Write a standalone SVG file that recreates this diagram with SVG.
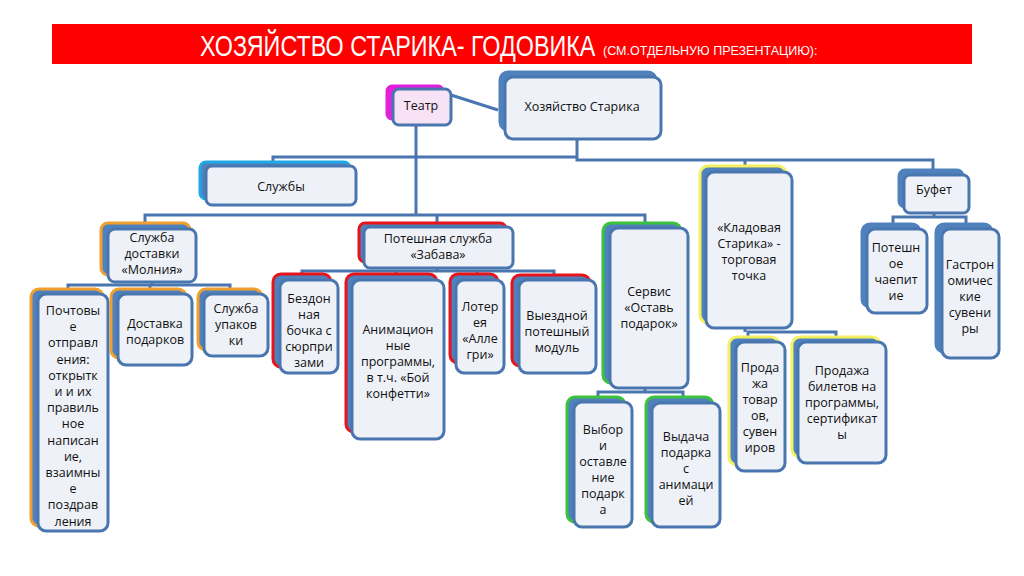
<svg xmlns="http://www.w3.org/2000/svg" width="1024" height="576" viewBox="0 0 1024 576">
<style>
.bk{fill:#4F81BD;stroke-width:3}
.fr{fill:#EEF2F8;stroke:#4A76B0;stroke-width:3}
.t{font-family:"Open Sans","Liberation Sans",sans-serif;font-size:12.5px;fill:#111;text-anchor:middle}
.c{fill:none;stroke:#4A76B0;stroke-width:3}
.or{stroke:#F0A030}.rd{stroke:#E8141C}.gr{stroke:#3CC23C}.ye{stroke:#F4F060}.bl{stroke:#4F81BD}.cy{stroke:#1EA8E6}
</style>
<rect width="1024" height="576" fill="#fff"/>
<g id="title">
<rect x="52" y="24" width="920" height="40" fill="#FF0000"/>
<text transform="translate(200,56) scale(0.805,1)" x="0" y="0" font-family="Liberation Sans, sans-serif" font-size="29" fill="#fff">ХОЗЯЙСТВО СТАРИКА- ГОДОВИКА</text>
<text x="603" y="55" font-family="Liberation Sans, sans-serif" font-size="12.5" fill="#fff">(СМ.ОТДЕЛЬНУЮ ПРЕЗЕНТАЦИЮ):</text>
</g>
<g id="connectors">
<path class="c" d="M451 95 L498 110"/>
<path class="c" d="M416 125 V215"/>
<path class="c" d="M577 139 V160 H933 V171 M745 160 V166 M577 157 H273 V163"/>
<path class="c" d="M145 223 V215 H645 V224 M437 215 V223"/>
<path class="c" d="M152 282 V285 M68 289 V285 H230 V289 M150 285 V289"/>
<path class="c" d="M437 268 V271 M302 275 V271 H554 V275 M396 271 V275 M477 271 V275"/>
<path class="c" d="M645 388 V392 M598 397 V392 H683 V397"/>
<path class="c" d="M745 328 V332 M748 337 V332 H836 V337"/>
<path class="c" d="M934 213 V217 M893 224 V217 H966 V224"/>
</g>
<g id="n-teatr">
<rect x="387" y="86" width="56" height="33" rx="5" fill="#E21FDB" stroke="#E21FDB" stroke-width="3"/>
<rect x="393" y="89" width="58" height="36" rx="6" fill="#F8E2F6" stroke="#4A76B0" stroke-width="3"/>
<text class="t" x="421" y="110">Театр</text>
</g>
<g id="n-khoz">
<rect class="bk bl" x="500" y="72" width="156" height="58" rx="8"/>
<rect class="fr" x="505" y="77" width="156" height="62" rx="8"/>
<text class="t" x="582" y="111">Хозяйство Старика</text>
</g>
<g id="n-sluzhby">
<rect class="bk cy" x="200" y="162" width="150" height="37" rx="6"/>
<rect class="fr" x="206" y="166" width="150" height="39" rx="6"/>
<text class="t" x="281" y="191">Службы</text>
</g>
<g id="n-molniya">
<rect class="bk or" x="101" y="223" width="89" height="52" rx="7"/>
<rect class="fr" x="108" y="229" width="88" height="53" rx="7"/>
<text class="t" x="152" y="242">Служба<tspan x="152" dy="16">доставки</tspan><tspan x="152" dy="16">«Молния»</tspan></text>
</g>
<g id="n-pocht">
<rect class="bk or" x="31" y="289" width="72" height="237" rx="8"/>
<rect class="fr" x="38" y="294" width="70" height="237" rx="8"/>
<text class="t" x="73" y="315">Почтовы<tspan x="73" dy="16.2">е</tspan><tspan x="73" dy="16.2">отправл</tspan><tspan x="73" dy="16.2">ения:</tspan><tspan x="73" dy="16.2">открытк</tspan><tspan x="73" dy="16.2">и и их</tspan><tspan x="73" dy="16.2">правиль</tspan><tspan x="73" dy="16.2">ное</tspan><tspan x="73" dy="16.2">написан</tspan><tspan x="73" dy="16.2">ие,</tspan><tspan x="73" dy="16.2">взаимны</tspan><tspan x="73" dy="16.2">е</tspan><tspan x="73" dy="16.2">поздрав</tspan><tspan x="73" dy="16.2">ления</tspan></text>
</g>
<g id="n-dostavka">
<rect class="bk or" x="111" y="289" width="75" height="69" rx="8"/>
<rect class="fr" x="118" y="294" width="74" height="71" rx="8"/>
<text class="t" x="155" y="328">Доставка<tspan x="155" dy="16">подарков</tspan></text>
</g>
<g id="n-upakovki">
<rect class="bk or" x="198" y="289" width="64" height="61" rx="8"/>
<rect class="fr" x="204" y="294" width="64" height="62" rx="8"/>
<text class="t" x="236" y="313">Служба<tspan x="236" dy="16">упаков</tspan><tspan x="236" dy="16">ки</tspan></text>
</g>
<g id="n-zabava">
<rect class="bk rd" x="359" y="223" width="147" height="39" rx="6"/>
<rect class="fr" x="364" y="227" width="149" height="41" rx="6"/>
<text class="t" x="438" y="243">Потешная служба<tspan x="438" dy="16">«Забава»</tspan></text>
</g>
<g id="n-bezdon">
<rect class="bk rd" x="273" y="274" width="58" height="93" rx="8"/>
<rect class="fr" x="280" y="280" width="58" height="93" rx="8"/>
<text class="t" x="309" y="303">Бездон<tspan x="309" dy="16">ная</tspan><tspan x="309" dy="16">бочка с</tspan><tspan x="309" dy="16">сюрпри</tspan><tspan x="309" dy="16">зами</tspan></text>
</g>
<g id="n-anim">
<rect class="bk rd" x="346" y="274" width="91" height="158" rx="8"/>
<rect class="fr" x="352" y="280" width="92" height="159" rx="8"/>
<text class="t" x="398" y="334">Анимацион<tspan x="398" dy="16">ные</tspan><tspan x="398" dy="16">программы,</tspan><tspan x="398" dy="16">в т.ч. «Бой</tspan><tspan x="398" dy="16">конфетти»</tspan></text>
</g>
<g id="n-loteri">
<rect class="bk rd" x="450" y="274" width="48" height="89" rx="8"/>
<rect class="fr" x="456" y="280" width="48" height="93" rx="8"/>
<text class="t" x="480" y="311">Лотер<tspan x="480" dy="16">ея</tspan><tspan x="480" dy="16">«Алле</tspan><tspan x="480" dy="16">гри»</tspan></text>
</g>
<g id="n-vyezd">
<rect class="bk rd" x="512" y="275" width="78" height="91" rx="8"/>
<rect class="fr" x="519" y="280" width="77" height="93" rx="8"/>
<text class="t" x="557" y="320">Выездной<tspan x="557" dy="16">потешный</tspan><tspan x="557" dy="16">модуль</tspan></text>
</g>
<g id="n-servis">
<rect class="bk gr" x="603" y="223" width="78" height="160" rx="8"/>
<rect class="fr" x="610" y="228" width="78" height="160" rx="8"/>
<text class="t" x="649" y="296">Сервис<tspan x="649" dy="16">«Оставь</tspan><tspan x="649" dy="16">подарок»</tspan></text>
</g>
<g id="n-vybor">
<rect class="bk gr" x="567" y="397" width="58" height="125" rx="8"/>
<rect class="fr" x="574" y="402" width="58" height="125" rx="8"/>
<text class="t" x="603" y="434">Выбор<tspan x="603" dy="16">и</tspan><tspan x="603" dy="16">оставле</tspan><tspan x="603" dy="16">ние</tspan><tspan x="603" dy="16">подарк</tspan><tspan x="603" dy="16">а</tspan></text>
</g>
<g id="n-vydacha">
<rect class="bk gr" x="646" y="397" width="67" height="125" rx="8"/>
<rect class="fr" x="652" y="403" width="68" height="124" rx="8"/>
<text class="t" x="686" y="441">Выдача<tspan x="686" dy="16">подарка</tspan><tspan x="686" dy="16">с</tspan><tspan x="686" dy="16">анимаци</tspan><tspan x="686" dy="16">ей</tspan></text>
</g>
<g id="n-kladovaya">
<rect class="bk ye" x="700" y="166" width="86" height="157" rx="8"/>
<rect class="fr" x="706" y="172" width="86" height="156" rx="8"/>
<text class="t" x="749" y="232">«Кладовая<tspan x="749" dy="16">Старика» -</tspan><tspan x="749" dy="16">торговая</tspan><tspan x="749" dy="16">точка</tspan></text>
</g>
<g id="n-tovary">
<rect class="bk ye" x="729" y="337" width="50" height="128" rx="8"/>
<rect class="fr" x="736" y="342" width="49" height="129" rx="8"/>
<text class="t" x="760" y="372">Прода<tspan x="760" dy="16">жа</tspan><tspan x="760" dy="16">товар</tspan><tspan x="760" dy="16">ов,</tspan><tspan x="760" dy="16">сувен</tspan><tspan x="760" dy="16">иров</tspan></text>
</g>
<g id="n-bilety">
<rect class="bk ye" x="792" y="337" width="88" height="120" rx="8"/>
<rect class="fr" x="798" y="342" width="88" height="121" rx="8"/>
<text class="t" x="842" y="375">Продажа<tspan x="842" dy="16">билетов на</tspan><tspan x="842" dy="16">программы,</tspan><tspan x="842" dy="16">сертификат</tspan><tspan x="842" dy="16">ы</tspan></text>
</g>
<g id="n-bufet">
<rect class="bk bl" x="899" y="170" width="64" height="37" rx="6"/>
<rect class="fr" x="904" y="175" width="65" height="38" rx="6"/>
<text class="t" x="934" y="194">Буфет</text>
</g>
<g id="n-chaepitie">
<rect class="bk bl" x="862" y="224" width="58" height="83" rx="8"/>
<rect class="fr" x="867" y="229" width="60" height="84" rx="8"/>
<text class="t" x="896" y="252">Потешн<tspan x="896" dy="16">ое</tspan><tspan x="896" dy="16">чаепит</tspan><tspan x="896" dy="16">ие</tspan></text>
</g>
<g id="n-gastro">
<rect class="bk bl" x="936" y="224" width="56" height="128" rx="8"/>
<rect class="fr" x="942" y="229" width="57" height="129" rx="8"/>
<text class="t" x="970" y="269">Гастрон<tspan x="970" dy="16">омичес</tspan><tspan x="970" dy="16">кие</tspan><tspan x="970" dy="16">сувени</tspan><tspan x="970" dy="16">ры</tspan></text>
</g>
</svg>
